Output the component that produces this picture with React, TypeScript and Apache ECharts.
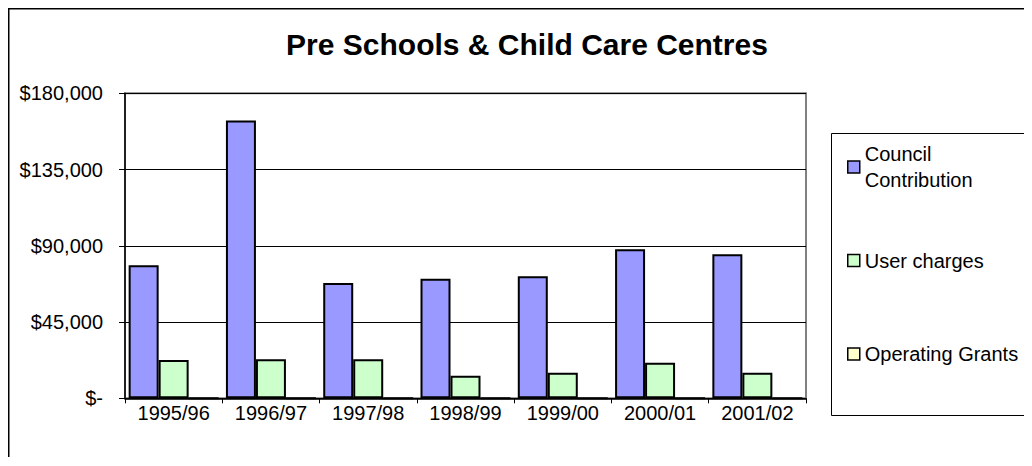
import React, { useEffect, useRef } from "react";
import * as echarts from "echarts";

const categories = ["1995/96", "1996/97", "1997/98", "1998/99", "1999/00", "2000/01", "2001/02"];
const councilContribution = [78500, 164000, 68000, 70500, 72000, 88000, 85000];
const userCharges = [22600, 23000, 23000, 13300, 15100, 21000, 15100];
const operatingGrants = [0, 0, 0, 0, 0, 0, 0];
const yTickValues = [0, 45000, 90000, 135000, 180000];
const yTickLabels = ["$-", "$45,000", "$90,000", "$135,000", "$180,000"];
const seriesNames = ["Council Contribution", "User charges", "Operating Grants"];
const legendLabels = ["Council\nContribution", "User charges", "Operating Grants"];
const titleText = "Pre Schools & Child Care Centres";

const FONT = "'Liberation Sans', Arial, Helvetica, sans-serif";

export default function App() {
  const ref = useRef<HTMLDivElement>(null);

  useEffect(() => {
    if (!ref.current) return;
    const chart = echarts.init(ref.current, undefined, { renderer: "svg" });
    const colors = ["#9999FF", "#CCFFCC", "#FFFFCC"];
    const values = [councilContribution, userCharges, operatingGrants];

    chart.setOption({
      animation: false,
      backgroundColor: "#ffffff",
      title: {
        text: titleText,
        left: 519,
        top: 21,
        padding: 0,
        textAlign: "center",
        textStyle: { fontFamily: FONT, fontSize: 30, fontWeight: "bold", color: "#000" },
      },
      legend: {
        orient: "vertical",
        left: 839,
        top: 120,
        padding: 0,
        itemGap: 15.5,
        itemWidth: 12,
        itemHeight: 12,
        icon: "rect",
        itemStyle: { borderColor: "#000", borderWidth: 1.5 },
        textStyle: { fontFamily: FONT, fontSize: 20, color: "#000", lineHeight: 26 },
        formatter: (name: string) => legendLabels[seriesNames.indexOf(name)],
        data: seriesNames.map((n, i) => ({
          name: n,
          textStyle: { padding: i === 0 ? [26, 0, 0, 0] : [26, 0, 26, 0] },
        })),
      },
      grid: {
        left: 117,
        top: 85.3,
        width: 681,
        height: 305,
        show: true,
        borderColor: "#808080",
        borderWidth: 2,
        backgroundColor: "transparent",
        containLabel: false,
      },
      xAxis: {
        type: "category",
        data: categories,
        axisLine: { show: true, lineStyle: { color: "#000", width: 1.5 } },
        axisTick: { show: true, length: 5, lineStyle: { color: "#000" }, alignWithLabel: false },
        axisLabel: { fontFamily: FONT, fontSize: 20, color: "#000", margin: 5 },
        splitLine: { show: false },
      },
      yAxis: {
        type: "value",
        min: 0,
        max: 180000,
        interval: 45000,
        axisLine: { show: true, lineStyle: { color: "#000", width: 1.5 } },
        axisTick: { show: true, length: 6, lineStyle: { color: "#000" } },
        axisLabel: {
          fontFamily: FONT,
          fontSize: 20,
          color: "#000",
          margin: 22,
          formatter: (v: number) => {
            const idx = yTickValues.indexOf(v);
            return idx >= 0 ? yTickLabels[idx] : "";
          },
        },
        splitLine: { show: true, lineStyle: { color: "#000", width: 1 } },
      },
      series: seriesNames.map((n, i) => ({
        name: n,
        type: "bar",
        data: values[i],
        barGap: "0%",
        barCategoryGap: "7.5%",
        itemStyle: { color: colors[i], borderColor: "#000", borderWidth: 2 },
      })),
      graphic: [
        {
          type: "polyline",
          shape: { points: [[0.75, 449], [0.75, 0.75], [1023, 0.75]] },
          style: { fill: "none", stroke: "#000", lineWidth: 1.5 },
          silent: true,
          z: -1,
        },
        {
          type: "polyline",
          shape: { points: [[1023, 125.5], [823.5, 125.5], [823.5, 407.5], [1023, 407.5]] },
          style: { fill: "none", stroke: "#000", lineWidth: 1 },
          silent: true,
          z: -1,
        },
      ],
    });

    return () => chart.dispose();
  }, []);

  return <div ref={ref} style={{ width: 1024, height: 450, overflow: "hidden" }} />;
}
